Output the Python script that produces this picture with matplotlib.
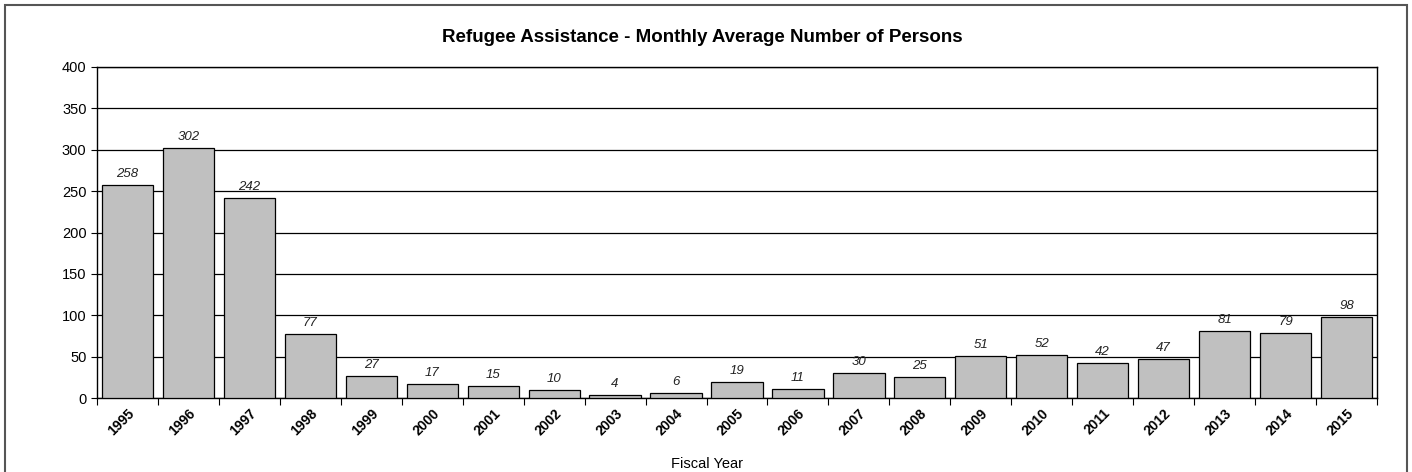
import matplotlib
matplotlib.use("Agg")
import matplotlib.pyplot as plt
from matplotlib.patches import Rectangle

plt.rcParams['font.family'] = ['Liberation Sans', 'DejaVu Sans']

years = [str(y) for y in range(1995, 2016)]
persons = [258, 302, 242, 77, 27, 17, 15, 10, 4, 6, 19, 11, 30, 25,
           51, 52, 42, 47, 81, 79, 98]

fig = plt.figure(figsize=(14.12, 4.72), dpi=100)
ax = fig.add_axes([97 / 1412, 1 - 398 / 472, (1377 - 97) / 1412, (398 - 67) / 472])

# outer border of the chart area
fig.patches.append(Rectangle((5 / 1412, -0.05), 1402 / 1412, 1.05 - 5 / 472,
                             transform=fig.transFigure, fill=False,
                             edgecolor='#555555', lw=1.5))

x = range(len(years))
bars = ax.bar(x, persons, width=0.84, color='#c0c0c0', edgecolor='black',
              linewidth=0.9, zorder=3)
for xi, v in zip(x, persons):
    ax.text(xi, v + 6, str(v), ha='center', va='bottom', fontsize=9.5,
            style='italic', color='#222222')

ax.set_xlim(-0.5, len(years) - 0.5)
ax.set_ylim(0, 400)
ax.set_yticks(range(0, 401, 50))
ax.yaxis.grid(True, color='black', lw=0.9, zorder=0)
ax.tick_params(axis='y', labelsize=10.5, length=4, direction='out')

ax.set_xticks([i - 0.5 for i in range(len(years) + 1)], minor=False)
ax.set_xticklabels([])
ax.set_xticks(list(x), minor=True)
ax.set_xticklabels(years, minor=True, rotation=45, ha='right', va='top',
                   rotation_mode='anchor', fontsize=10, fontweight='bold')
ax.tick_params(axis='x', which='major', length=5, direction='out')
ax.tick_params(axis='x', which='minor', length=0, pad=6)

for s in ax.spines.values():
    s.set_linewidth(1.0)

fig.text(702 / 1412, 1 - 38 / 472,
         'Refugee Assistance - Monthly Average Number of Persons',
         ha='center', va='center', fontsize=13.5, fontweight='bold')
fig.text(707 / 1412, 1 - 464 / 472, 'Fiscal Year',
         ha='center', va='center', fontsize=10.5)

fig.savefig('out.png', dpi=100)
